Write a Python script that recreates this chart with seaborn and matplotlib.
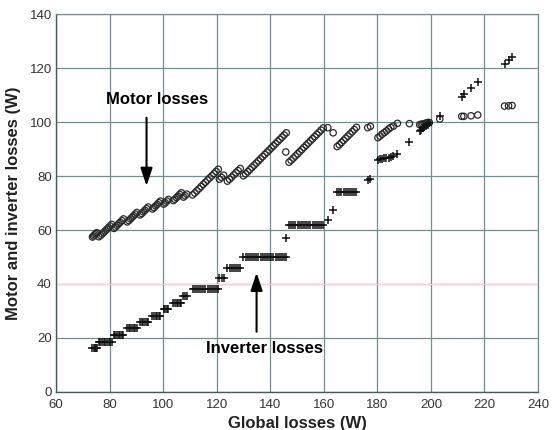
import matplotlib
matplotlib.use("Agg")
import matplotlib.pyplot as plt
import seaborn as sns
import pandas as pd

# Global losses (W) for each measured operating point
global_losses = [
    73.6, 74.0, 74.4, 74.8, 75.2,
    76.0, 76.6, 77.2, 77.8, 78.4, 79.0, 79.6, 80.2, 80.8,
    81.6, 82.2, 82.8, 83.4, 84.0, 84.6, 85.2,
    86.6, 87.2, 87.8, 88.4, 89.0, 89.6, 90.2,
    91.4, 92.0, 92.6, 93.2, 93.8, 94.4,
    96.0, 96.6, 97.2, 97.8, 98.4, 99.0,
    100.2, 100.8, 101.4, 102.0,
    103.8, 104.4, 105.0, 105.6, 106.2, 106.8,
    107.6, 108.2, 108.8,
    111.0, 111.8, 112.6, 113.4, 114.2, 115.0, 115.8, 116.6, 117.4, 118.2, 119.0, 119.8, 120.6,
    121.0, 121.8, 122.6,
    124.0, 124.8, 125.6, 126.4, 127.2, 128.0, 128.8,
    130.0, 130.8, 131.6, 132.4, 133.2, 134.0, 134.8, 135.6, 136.4, 137.2, 138.0,
    138.8, 139.6, 140.4, 141.2, 142.0, 142.8, 143.6, 144.4, 145.2, 146.0,
    145.8,
    147.0, 147.8, 148.6, 149.4, 150.2, 151.0, 151.8, 152.6, 153.4, 154.2, 155.0,
    155.8, 156.6, 157.4, 158.2, 159.0, 159.8, 161.5,
    163.5,
    165.0, 165.8, 166.6, 167.4, 168.2, 169.0, 169.8, 170.6, 171.4, 172.2,
    176.4, 177.4,
    180.2, 181.0, 181.8, 182.6, 183.4, 184.2, 185.0, 186.0, 187.5,
    192.0,
    195.8, 196.4, 197.0, 197.6, 198.2, 198.8, 199.4,
    203.3,
    211.5, 212.3, 215.0, 217.5,
    227.5, 229.0, 230.3,
]

# Motor losses (W)
motor_losses = [
    57.4, 57.8, 58.2, 58.6, 59.0,
    57.5, 58.0, 58.5, 59.1, 59.7, 60.3, 60.9, 61.5, 62.1,
    60.6, 61.1, 61.7, 62.3, 62.9, 63.5, 64.1,
    63.0, 63.5, 64.1, 64.7, 65.3, 65.9, 66.5,
    65.6, 66.1, 66.7, 67.3, 67.9, 68.5,
    67.8, 68.3, 68.9, 69.5, 70.1, 70.7,
    69.6, 70.1, 70.7, 71.3,
    70.9, 71.4, 72.0, 72.6, 73.2, 73.8,
    72.2, 72.7, 73.3,
    73.0, 73.7, 74.5, 75.3, 76.1, 76.9, 77.7, 78.5, 79.3, 80.1, 80.9, 81.7, 82.5,
    78.8, 79.5, 80.3,
    78.1, 78.8, 79.6, 80.4, 81.2, 82.0, 82.8,
    80.1, 80.8, 81.6, 82.4, 83.2, 84.0, 84.8, 85.6, 86.4, 87.2, 88.0,
    88.8, 89.6, 90.4, 91.2, 92.0, 92.8, 93.6, 94.4, 95.2, 96.0,
    88.9,
    85.1, 85.8, 86.6, 87.4, 88.2, 89.0, 89.8, 90.6, 91.4, 92.2, 93.0,
    93.8, 94.6, 95.4, 96.2, 97.0, 97.8, 97.9,
    96.0,
    90.9, 91.6, 92.4, 93.2, 94.0, 94.8, 95.6, 96.4, 97.2, 98.0,
    97.9, 98.4,
    94.2, 94.8, 95.5, 96.1, 96.7, 97.4, 98.0, 98.5, 99.5,
    99.4,
    99.0, 99.2, 99.2, 99.4, 99.6, 99.8, 99.8,
    101.1,
    102.1, 102.1, 102.3, 102.6,
    105.9, 106.0, 106.1,
]

# Inverter losses (W)
inverter_losses = [
    16.2, 16.2, 16.2, 16.2, 16.2,
    18.6, 18.6, 18.7, 18.7, 18.7, 18.7, 18.7, 18.7, 18.7,
    21.0, 21.1, 21.1, 21.1, 21.1, 21.1, 21.1,
    23.6, 23.7, 23.7, 23.7, 23.7, 23.7, 23.7,
    25.8, 25.9, 25.9, 25.9, 25.9, 25.9,
    28.2, 28.3, 28.3, 28.3, 28.3, 28.3,
    30.6, 30.7, 30.7, 30.7,
    32.9, 33.0, 33.0, 33.0, 33.0, 33.0,
    35.4, 35.5, 35.5,
    38.0, 38.1, 38.1, 38.1, 38.1, 38.1, 38.1, 38.1, 38.1, 38.1, 38.1, 38.1, 38.1,
    42.2, 42.3, 42.3,
    45.9, 46.0, 46.0, 46.0, 46.0, 46.0, 46.0,
    49.9, 50.0, 50.0, 50.0, 50.0, 50.0, 50.0, 50.0, 50.0, 50.0, 50.0,
    50.0, 50.0, 50.0, 50.0, 50.0, 50.0, 50.0, 50.0, 50.0, 50.0,
    56.9,
    61.9, 62.0, 62.0, 62.0, 62.0, 62.0, 62.0, 62.0, 62.0, 62.0, 62.0,
    62.0, 62.0, 62.0, 62.0, 62.0, 62.0, 63.6,
    67.5,
    74.1, 74.2, 74.2, 74.2, 74.2, 74.2, 74.2, 74.2, 74.2, 74.2,
    78.5, 79.0,
    86.0, 86.2, 86.3, 86.5, 86.7, 86.8, 87.0, 87.5, 88.0,
    92.6,
    96.8, 97.2, 97.8, 98.2, 98.6, 99.0, 99.6,
    102.2,
    109.4, 110.2, 112.7, 114.9,
    121.6, 123.0, 124.2,
]

df = pd.DataFrame({
    "global": global_losses,
    "motor": motor_losses,
    "inverter": inverter_losses,
})

sns.set_theme(style="white")
plt.rcParams["font.family"] = ["Liberation Sans", "DejaVu Sans"]

fig = plt.figure(figsize=(5.53, 4.30), dpi=100)
ax = fig.add_axes([0.1013, 0.0884, 0.8716, 0.8790])

grid_color = "#758f8f"

# Motor losses as open circles
sns.scatterplot(data=df, x="global", y="motor", ax=ax, marker="o", s=21,
                facecolors="none", edgecolor="#2a2a2a", linewidth=0.9,
                zorder=3, legend=False)
# Inverter losses as plus signs
sns.scatterplot(data=df, x="global", y="inverter", ax=ax, marker="+", s=30,
                color="#111111", linewidth=1.1, zorder=3, legend=False)

ax.set_xlim(60, 240)
ax.set_ylim(0, 140)
ax.set_xticks(range(60, 241, 20))
ax.set_yticks(range(0, 141, 20))

ax.grid(True, color=grid_color, linewidth=0.9)
ax.set_axisbelow(True)
# faint pink gridline at 40 W
ax.axhline(40, color="#f1d3dc", linewidth=0.8, zorder=1)

for side in ["top", "right"]:
    ax.spines[side].set_color(grid_color)
    ax.spines[side].set_linewidth(0.9)
for side in ["left", "bottom"]:
    ax.spines[side].set_color("#4a5a5a")
    ax.spines[side].set_linewidth(1.0)

ax.tick_params(axis="both", length=0, labelsize=9.5, labelcolor="#333333")
ax.tick_params(axis="x", pad=5)
ax.tick_params(axis="y", pad=3)

ax.set_xlabel("Global losses (W)", fontsize=12, fontweight="bold",
              color="#222222", labelpad=4)
ax.set_ylabel("Motor and inverter losses (W)", fontsize=12, fontweight="bold",
              color="#222222", labelpad=6)

# Series annotations
ax.text(97.7, 108.4, "Motor losses", fontsize=12, fontweight="bold",
        ha="center", va="center", color="black")
ax.annotate("", xy=(93.8, 76.3), xytext=(93.8, 101.6),
            arrowprops=dict(arrowstyle="-|>,head_width=0.3,head_length=0.9",
                            color="black", lw=1.5, shrinkA=0, shrinkB=0))

ax.text(138.0, 16.0, "Inverter losses", fontsize=12, fontweight="bold",
        ha="center", va="center", color="black")
ax.annotate("", xy=(134.9, 44.2), xytext=(134.9, 22.3),
            arrowprops=dict(arrowstyle="-|>,head_width=0.3,head_length=0.9",
                            color="black", lw=1.5, shrinkA=0, shrinkB=0))

fig.savefig("out.png", dpi=100)
